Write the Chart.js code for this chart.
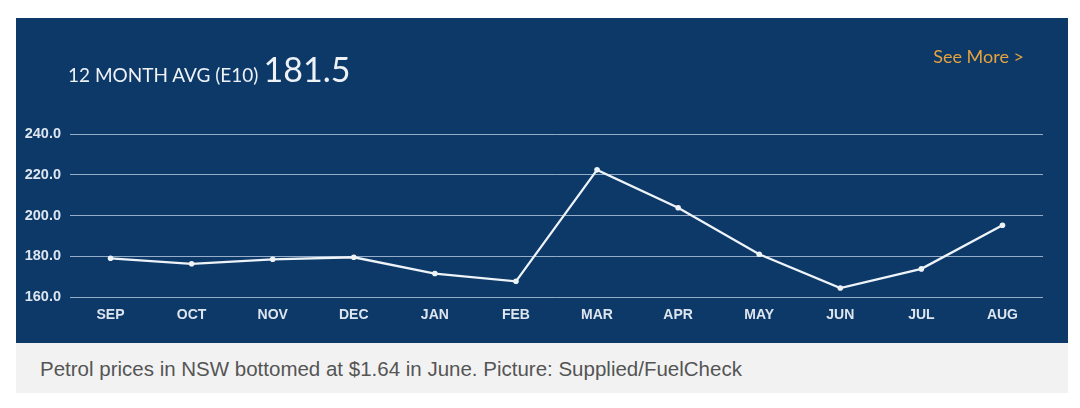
<!DOCTYPE html>
<html>
<head>
<meta charset="utf-8">
<script src="https://cdn.jsdelivr.net/npm/chart.js@4"></script>
<style>
  body { margin: 0; background: #fff; width: 1080px; height: 408px; position: relative; overflow: hidden; }
  #panel { position: absolute; left: 16px; top: 18px; width: 1052px; height: 325px; background: #0c3968; }
  #titulo { position: absolute; left: 52px; top: 30px; color: #eef2f7; font-family: Lato, "Open Sans", sans-serif; white-space: nowrap; }
  #titulo .rot { font-size: 19px; }
  #titulo .valor { font-size: 34px; margin-left: 1px; }
  #verMais { position: absolute; right: 44px; top: 27px; color: #e6a23f; font-family: Lato, "Open Sans", sans-serif; font-size: 18px; }
  #grafico { position: absolute; left: 0; top: 0; }
  #legenda { position: absolute; left: 16px; top: 343px; width: 1052px; height: 50px; background: #f2f2f2; }
  #legenda p { margin: 0; position: absolute; left: 24px; top: 14px; font-family: "Liberation Sans", Arial, sans-serif; font-size: 20.5px; color: #555; }
</style>
</head>
<body>
<div id="panel">
  <canvas id="grafico" width="1052" height="325"></canvas>
  <div id="titulo"><span class="rot">12 MONTH AVG (E10)</span> <span class="valor">181.5</span></div>
  <div id="verMais">See More &gt;</div>
</div>
<div id="legenda"><p>Petrol prices in NSW bottomed at $1.64 in June. Picture: Supplied/FuelCheck</p></div>

<script>
// meses e precos medios (centavos por litro)
const meses = ['SEP', 'OCT', 'NOV', 'DEC', 'JAN', 'FEB', 'MAR', 'APR', 'MAY', 'JUN', 'JUL', 'AUG'];
const precos = [179.0, 176.3, 178.5, 179.5, 171.5, 167.7, 222.4, 203.8, 181.0, 164.4, 173.8, 195.2];
const ticksY = [160, 180, 200, 220, 240];

const corLinha = '#eef3f8';
const corGrade = 'rgba(195, 212, 232, 0.75)';

const ctx = document.getElementById('grafico').getContext('2d');

new Chart(ctx, {
    type: 'line',
    data: {
        labels: meses,
        datasets: [{
            data: precos,
            borderColor: corLinha,
            backgroundColor: corLinha,
            borderWidth: 2.3,
            pointRadius: 2.8,
            pointBackgroundColor: corLinha,
            pointBorderWidth: 0,
            tension: 0
        }]
    },
    options: {
        responsive: false,
        animation: false,
        layout: { padding: { left: 4, right: 25, top: 116, bottom: 0 } },
        plugins: { legend: { display: false }, tooltip: { enabled: false } },
        scales: {
            x: {
                offset: true,
                grid: { display: false },
                border: { display: false },
                ticks: {
                    color: '#dde5ef',
                    padding: 2,
                    font: { family: 'Liberation Sans', size: 14, weight: 'bold' }
                },
                afterFit: function(scale) { scale.height = 46; }
            },
            y: {
                min: 160,
                max: 240,
                afterBuildTicks: function(scale) {
                    scale.ticks = ticksY.map(function(v) { return { value: v }; });
                },
                grid: { color: corGrade, lineWidth: 1, drawTicks: false },
                border: { display: false },
                ticks: {
                    color: '#dde5ef',
                    padding: 9,
                    font: { family: 'Liberation Sans', size: 14.5, weight: 'bold' },
                    callback: function(v) { return v.toFixed(1); }
                },
                afterFit: function(scale) { scale.width = 50; }
            }
        }
    }
});
</script>
</body>
</html>
